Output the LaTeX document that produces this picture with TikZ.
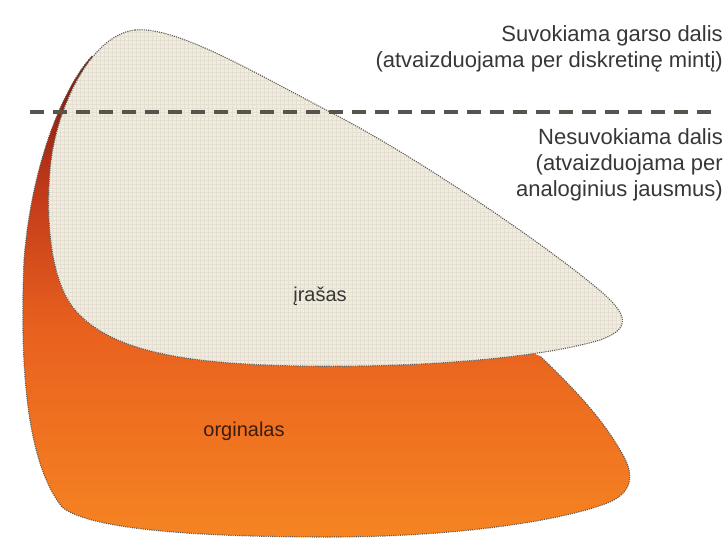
\documentclass[tikz,border=0pt]{standalone}
\usepackage{fontspec}
\setmainfont{Liberation Sans}
\usepackage{tikz}
\usetikzlibrary{positioning}
\definecolor{originalTop}{RGB}{118, 22, 12}
\definecolor{originalUpper}{RGB}{190, 55, 25}
\definecolor{originalMid}{RGB}{232, 96, 30}
\definecolor{originalBot}{RGB}{246, 132, 34}
\definecolor{recordFill}{RGB}{240, 236, 223}
\definecolor{recordWeave}{RGB}{228, 223, 209}
\definecolor{edgeGray}{RGB}{95, 90, 85}
\definecolor{splitGray}{RGB}{85, 85, 78}
\definecolor{textGray}{RGB}{55, 55, 55}
\definecolor{textBrown}{RGB}{60, 28, 14}
\pgfdeclareverticalshading{originalshade}{100bp}{color(0bp)=(originalBot); color(25bp)=(originalBot); color(47bp)=(originalMid); color(62bp)=(originalUpper); color(75bp)=(originalTop); color(100bp)=(originalTop)}

\begin{document}
\begin{tikzpicture}[x=1pt, y=-1pt,
    outline/.style={draw=edgeGray, line width=1.1pt, dash pattern=on 1.1pt off 1.1pt},
    sidetext/.style={align=right, inner sep=0pt, font=\fontsize{22}{26}\selectfont, text=textGray},
    lbl/.style={inner sep=0pt, font=\fontsize{20}{24}\selectfont}]
    \useasboundingbox (0,0) rectangle (725,538);

    % Original (behind)
    \shade[shading=originalshade]
        (92,56) .. controls (65,85) and (32,160) .. (24,260)
        .. controls (20,360) and (25,460) .. (62,507)
        .. controls (90,530) and (200,537) .. (330,537)
        .. controls (450,537) and (560,522) .. (610,502)
        .. controls (636,490) and (633,470) .. (620,450)
        .. controls (600,415) and (570,385) .. (540,356)
        -- (400,300) -- (115,60) -- cycle;
    \draw[outline]
        (92,56) .. controls (65,85) and (32,160) .. (24,260)
        .. controls (20,360) and (25,460) .. (62,507)
        .. controls (90,530) and (200,537) .. (330,537)
        .. controls (450,537) and (560,522) .. (610,502)
        .. controls (636,490) and (633,470) .. (620,450)
        .. controls (600,415) and (570,385) .. (540,356);

    % Record (in front)
    \path[fill=recordFill]
        (135,30) .. controls (175,26) and (250,70) .. (330,112)
        .. controls (420,158) and (560,255) .. (605,295)
        .. controls (630,318) and (628,330) .. (600,340)
        .. controls (540,358) and (420,368) .. (300,366)
        .. controls (180,364) and (110,350) .. (75,310)
        .. controls (50,280) and (46,220) .. (50,170)
        .. controls (55,110) and (90,35) .. (135,30) -- cycle;
    % canvas weave
    \begin{scope}
        \clip (135,30) .. controls (175,26) and (250,70) .. (330,112)
            .. controls (420,158) and (560,255) .. (605,295)
            .. controls (630,318) and (628,330) .. (600,340)
            .. controls (540,358) and (420,368) .. (300,366)
            .. controls (180,364) and (110,350) .. (75,310)
            .. controls (50,280) and (46,220) .. (50,170)
            .. controls (55,110) and (90,35) .. (135,30) -- cycle;
        \foreach \k in {0,4,...,600} {
            \draw[recordWeave, line width=0.5pt] (40+\k,20) -- (40+\k,380);
        }
        \foreach \k in {0,4,...,360} {
            \draw[recordWeave, line width=0.5pt] (40,20+\k) -- (640,20+\k);
        }
    \end{scope}
    \draw[outline]
        (135,30) .. controls (175,26) and (250,70) .. (330,112)
        .. controls (420,158) and (560,255) .. (605,295)
        .. controls (630,318) and (628,330) .. (600,340)
        .. controls (540,358) and (420,368) .. (300,366)
        .. controls (180,364) and (110,350) .. (75,310)
        .. controls (50,280) and (46,220) .. (50,170)
        .. controls (55,110) and (90,35) .. (135,30) -- cycle;

    % Split line
    \coordinate (splitL) at (30,112);
    \coordinate (splitR) at (712,112);
    \draw[splitGray, line width=4pt, dash pattern=on 14pt off 9pt] (splitL) -- (splitR);

    % Labels
    \node[lbl, text=textGray] (record) at (320,296) {įrašas};
    \node[lbl, text=textBrown] (original) at (244,431) {orginalas};

    \node[sidetext, anchor=east] (heard) at (723,49) {Suvokiama garso dalis\\(atvaizduojama per diskretinę mintį)};
    \node[sidetext, anchor=east] (unheard) at (723,165) {Nesuvokiama dalis\\(atvaizduojama per\\analoginius jausmus)};
\end{tikzpicture}
\end{document}
